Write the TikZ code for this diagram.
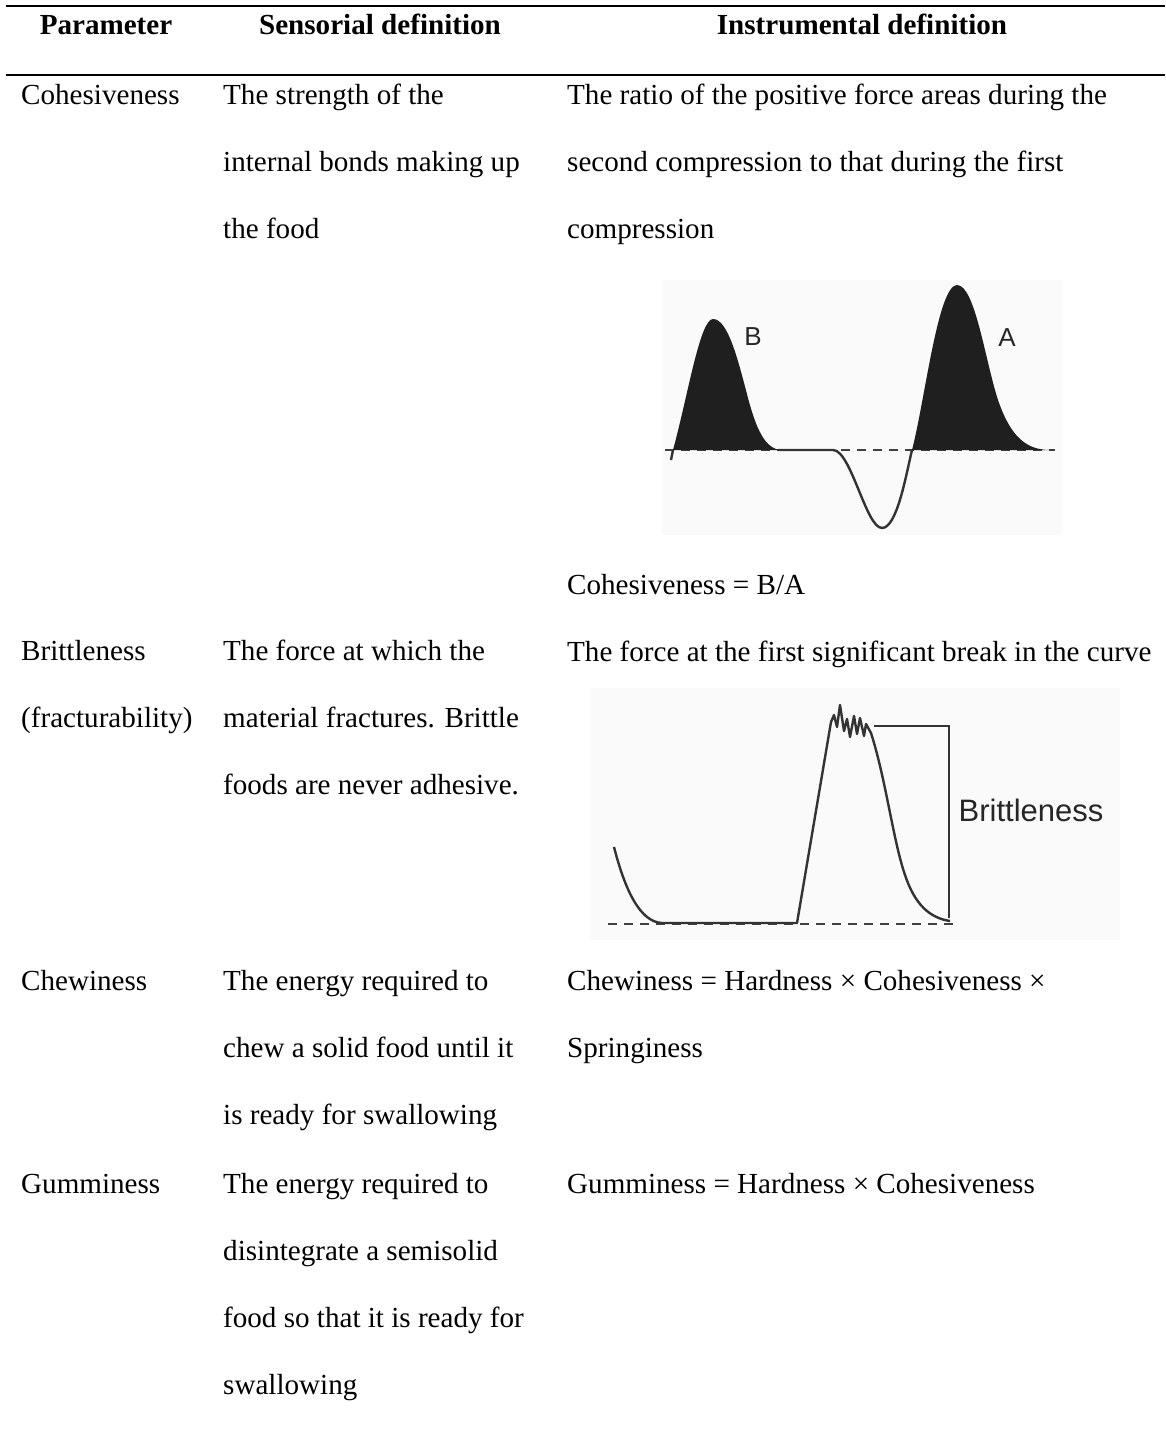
\documentclass[tikz,border=0pt]{standalone}
\usepackage{fontspec}
\setmainfont{Liberation Serif}
\newfontfamily\plotfont{Liberation Sans}
\usepackage{tikz}

\begin{document}
\begin{tikzpicture}[x=1pt,y=-1pt,
  cell/.style={anchor=base west,inner sep=0pt,font=\fontsize{29.1}{34}\selectfont},
  head/.style={anchor=base,inner sep=0pt,font=\fontsize{29.1}{34}\selectfont\bfseries},
  scan/.style={fill=black!2},
  curve/.style={line width=2.4pt,black!80},
  zero/.style={line width=2pt,black!75,dash pattern=on 9pt off 7pt},
  peak/.style={fill=black!88},
  plotlbl/.style={inner sep=0pt,text=black!85}]
\useasboundingbox (0,0) rectangle (1165,1431);

% rules
\draw[line width=2.6pt] (6,6) -- (1165,6);
\draw[line width=2.2pt] (6,75) -- (1165,75);

% header
\node[head] (hpar) at (106,35) {Parameter};
\node[head] (hsen) at (380,35) {Sensorial definition};
\node[head] (hins) at (862,35) {Instrumental definition};

% cohesiveness
\node[cell] (coh) at (21,105) {Cohesiveness};
\foreach \txt [count=\i] in {The strength of the,internal bonds making up,the food}
    \node[cell] (coh-sen-\i) at (223,{38+67*\i}) {\txt};
\foreach \txt [count=\i] in {The ratio of the positive force areas during the,second compression to that during the first,compression}
    \node[cell] (coh-ins-\i) at (567,{38+67*\i}) {\txt};
\fill[scan] (662,280) rectangle (1062,535);
\draw[zero] (665,450) -- (1055,450);
\fill[peak] (673,450) .. controls (688,395) and (700,319) .. (713,319)
    .. controls (728,319) and (738,360) .. (748,398)
    .. controls (756,428) and (765,450) .. (782,450) -- cycle;
\fill[peak] (912,450) .. controls (925,400) and (938,285) .. (957,285)
    .. controls (975,285) and (985,360) .. (998,400)
    .. controls (1010,435) and (1025,450) .. (1050,450) -- cycle;
\draw[curve] (671,460) -- (673,450);
\draw[curve] (778,450) -- (833,450)
    .. controls (851,450) and (866,528) .. (882,528)
    .. controls (897,528) and (906,475) .. (912,450);
\node[plotlbl,font=\plotfont\fontsize{26}{28}\selectfont] (lblB) at (753,337) {B};
\node[plotlbl,font=\plotfont\fontsize{26}{28}\selectfont] (lblA) at (1007,338) {A};
\node[cell] (coh-eq) at (567,594) {Cohesiveness = B/A};

% brittleness
\node[cell] (bri-1) at (21,660) {Brittleness};
\node[cell] (bri-2) at (21,727) {(fracturability)};
\foreach \txt [count=\i] in {The force at which the,material fractures. Brittle,foods are never adhesive.}
    \node[cell] (bri-sen-\i) at (223,{593+67*\i}) {\txt};
\node[cell] (bri-ins) at (567,661) {The force at the first significant break in the curve};
\fill[scan] (590,688) rectangle (1120,940);
\draw[zero] (608,924) -- (956,924);
\draw[curve,line join=round] (614,847) .. controls (625,890) and (640,922) .. (662,923)
    -- (797,923) -- (831,722) -- (834,715) -- (837,727) -- (840,705) -- (844,731)
    -- (847,719) -- (850,737) -- (854,716) -- (857,734) -- (860,718) -- (864,736)
    -- (866,724) -- (871,733)
    .. controls (886,780) and (893,840) .. (905,875)
    .. controls (915,905) and (930,918) .. (950,921);
\draw[curve] (874,726) -- (949,726) -- (949,918);
\node[plotlbl,font=\plotfont\fontsize{31}{34}\selectfont] (lblBri) at (1031,810) {Brittleness};

% chewiness
\node[cell] (che) at (21,990) {Chewiness};
\foreach \txt [count=\i] in {The energy required to,chew a solid food until it,is ready for swallowing}
    \node[cell] (che-sen-\i) at (223,{923+67*\i}) {\txt};
\foreach \txt [count=\i] in {Chewiness = Hardness × Cohesiveness ×,Springiness}
    \node[cell] (che-ins-\i) at (567,{923+67*\i}) {\txt};

% gumminess
\node[cell] (gum) at (21,1193) {Gumminess};
\foreach \txt [count=\i] in {The energy required to,disintegrate a semisolid,food so that it is ready for,swallowing}
    \node[cell] (gum-sen-\i) at (223,{1126+67*\i}) {\txt};
\node[cell] (gum-ins) at (567,1193) {Gumminess = Hardness × Cohesiveness};
\end{tikzpicture}
\end{document}
